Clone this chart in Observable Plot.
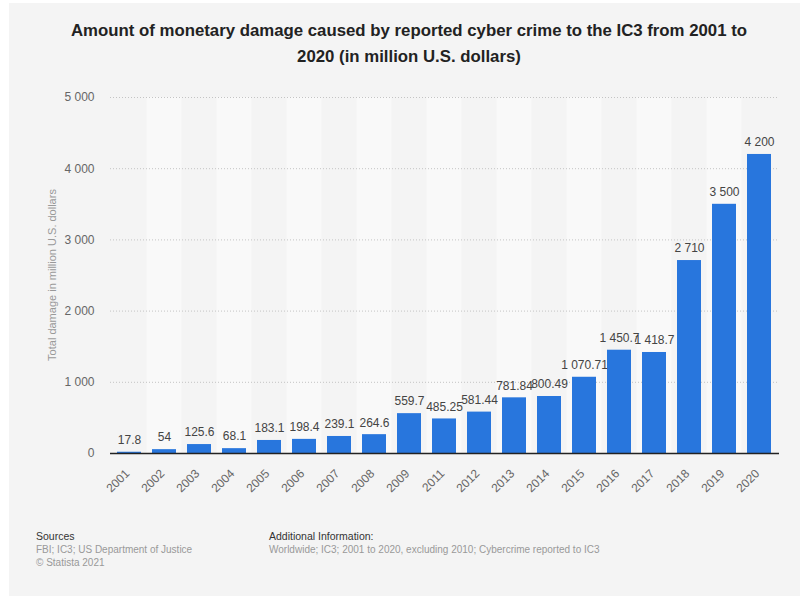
<!DOCTYPE html>
<html><head><meta charset="utf-8">
<script src="https://cdn.jsdelivr.net/npm/d3@7"></script>
<script src="https://cdn.jsdelivr.net/npm/@observablehq/plot@0.6"></script>
<style>
body{margin:0;background:#fff;font-family:"Liberation Sans",Arial,sans-serif;}
#wrap{position:relative;width:800px;height:596px;overflow:hidden;background:#fff}
#panel{position:absolute;left:9px;top:3px;right:0;bottom:0;background:#f4f4f4}
#title{position:absolute;left:18px;width:782px;top:18px;text-align:center;font-weight:bold;font-size:16.8px;line-height:26px;color:#222}
#chart{position:absolute;left:0;top:80px}
#ylabel{position:absolute;left:52px;top:275px;transform:translate(-50%,-50%) rotate(-90deg);white-space:nowrap;font-size:11px;color:#999}
.foot{position:absolute;top:530px;font-size:10px;line-height:13px;color:#999}
.foot .h{color:#333;font-size:10.5px}
</style></head>
<body>
<div id="wrap">
<div id="panel"></div>
<div id="title">Amount of monetary damage caused by reported cyber crime to the IC3 from 2001 to<br>2020 (in million U.S. dollars)</div>
<div id="chart"></div>
<div id="ylabel">Total damage in million U.S. dollars</div>
<div class="foot" style="left:36px"><div class="h">Sources</div><div>FBI; IC3; US Department of Justice</div><div>© Statista 2021</div></div>
<div class="foot" style="left:269px"><div class="h">Additional Information:</div><div>Worldwide; IC3; 2001 to 2020, excluding 2010; Cybercrime reported to IC3</div></div>
</div>
<script>
const years = ["2001","2002","2003","2004","2005","2006","2007","2008","2009","2011","2012","2013","2014","2015","2016","2017","2018","2019","2020"];
const damage = [17.8,54,125.6,68.1,183.1,198.4,239.1,264.6,559.7,485.25,581.44,781.84,800.49,1070.71,1450.7,1418.7,2710,3500,4200];
const yTicks = [0,1000,2000,3000,4000,5000];

const data = years.map((y,i)=>({year:y, value:damage[i], i}));
const bands = data.filter(d=>d.i%2===1);
const yMax = yTicks[yTicks.length-1];
const intFmt = d3.formatLocale({decimal:".", thousands:" ", grouping:[3]}).format(",d");
function fmt(v){
  const s = String(v);
  const [a,b] = s.split(".");
  return intFmt(+a) + (b ? "." + b : "");
}
const W=800,H=430,mL=110,mR=21,mT=17,mB=57;
const pIn=0.31;
const step=(W-mL-mR)/years.length;
const ins=-step*pIn/2;

const chart = Plot.plot({
  width:W,height:H,marginTop:mT,marginBottom:mB,marginLeft:mL,marginRight:mR,
  style:{background:"transparent",fontFamily:"'Liberation Sans',Arial,sans-serif",fontSize:"12px"},
  x:{domain:years,paddingInner:pIn,paddingOuter:pIn/2,label:null},
  y:{domain:[0,yMax],label:null},
  marks:[
    Plot.barY(bands,{x:"year",y:()=>yMax,fill:"#f9f9f9",insetLeft:ins,insetRight:ins}),
    Plot.gridY(yTicks,{stroke:"#c4c4c4",strokeOpacity:1,strokeDasharray:"1,2"}),
    Plot.axisY({ticks:yTicks,tickSize:0,tickPadding:16,tickFormat:fmt,fill:"#666",fontSize:12,label:null}),
    Plot.axisX({tickRotate:-45,tickSize:0,tickPadding:18,dx:-2,fill:"#666",fontSize:12,label:null}),
    Plot.barY(data,{x:"year",y:"value",fill:"#2876dd"}),
    Plot.ruleY([0],{stroke:"#222",strokeWidth:1.5}),
    Plot.text(data,{x:"year",y:"value",text:d=>fmt(d.value),dy:-12,fill:"#444",fontSize:12})
  ]
});
document.getElementById("chart").appendChild(chart);
</script>
</body></html>
